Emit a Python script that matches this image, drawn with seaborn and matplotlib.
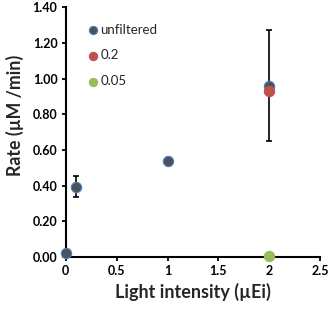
import pandas as pd
import matplotlib
matplotlib.use('Agg')
import matplotlib.pyplot as plt
import seaborn as sns

# Données
x_unf = [0, 0.1, 1, 2]
y_unf = [0.025, 0.395, 0.54, 0.96]
err_unf = [0, 0.06, 0, 0.31]
x_02 = [2]
y_02 = [0.93]
x_005 = [2]
y_005 = [0.005]
series = ['unfiltered', '0.2', '0.05']

df = pd.DataFrame({
    'x': x_unf + x_02 + x_005,
    'y': y_unf + y_02 + y_005,
    'serie': [series[0]] * len(x_unf) + [series[1]] * len(x_02) + [series[2]] * len(x_005),
})

sns.set_style('ticks')
plt.rcParams['font.family'] = ['Lato', 'DejaVu Sans']

fig = plt.figure(figsize=(3.29, 3.09), dpi=100)
ax = fig.add_axes([0.2, 0.168, 0.773, 0.809])

# Barres d'erreur (série unfiltered)
ax.errorbar(x_unf, y_unf, yerr=err_unf, fmt='none', ecolor='black',
            elinewidth=1.2, capsize=2.5, capthick=1.2, zorder=2, clip_on=False)

palette = {'unfiltered': '#4a525b', '0.2': '#c0504d', '0.05': '#9bbb59'}
edges = {'unfiltered': '#4f81bd', '0.2': '#c0504d', '0.05': '#9bbb59'}
for s in series:
    sub = df[df['serie'] == s]
    sns.scatterplot(data=sub, x='x', y='y', color=palette[s], edgecolor=edges[s],
                    linewidth=0.8, s=55, ax=ax, zorder=3, clip_on=False, label=s)

ax.set_xlim(0, 2.5)
ax.set_ylim(0, 1.4)
ax.set_xticks([0, 0.5, 1, 1.5, 2, 2.5])
ax.set_xticklabels(['0', '0.5', '1', '1.5', '2', '2.5'])
ax.set_yticks([i * 0.2 for i in range(8)])
ax.set_yticklabels([f'{i * 0.2:.2f}' for i in range(8)])
for lab in ax.get_xticklabels() + ax.get_yticklabels():
    lab.set_fontweight('bold')
    lab.set_fontsize(9)
ax.tick_params(direction='out', length=3, width=1.3, colors='black', pad=3)

for side in ['top', 'right']:
    ax.spines[side].set_visible(False)
for side in ['left', 'bottom']:
    ax.spines[side].set_linewidth(1.5)
    ax.spines[side].set_color('black')

ax.set_xlabel('Light intensity (µEi)', fontsize=13, fontweight='bold', labelpad=4)
ax.set_ylabel('Rate (µM /min)', fontsize=12.8, fontweight='bold')
ax.yaxis.set_label_coords(-0.163, 0.565)

leg = ax.legend(loc='upper left', bbox_to_anchor=(0.06, 0.955), frameon=False,
                fontsize=9.5, labelspacing=1.05, handletextpad=0.05, handlelength=1.0,
                markerscale=0.8, borderaxespad=0)

fig.savefig('out.png', dpi=100)
